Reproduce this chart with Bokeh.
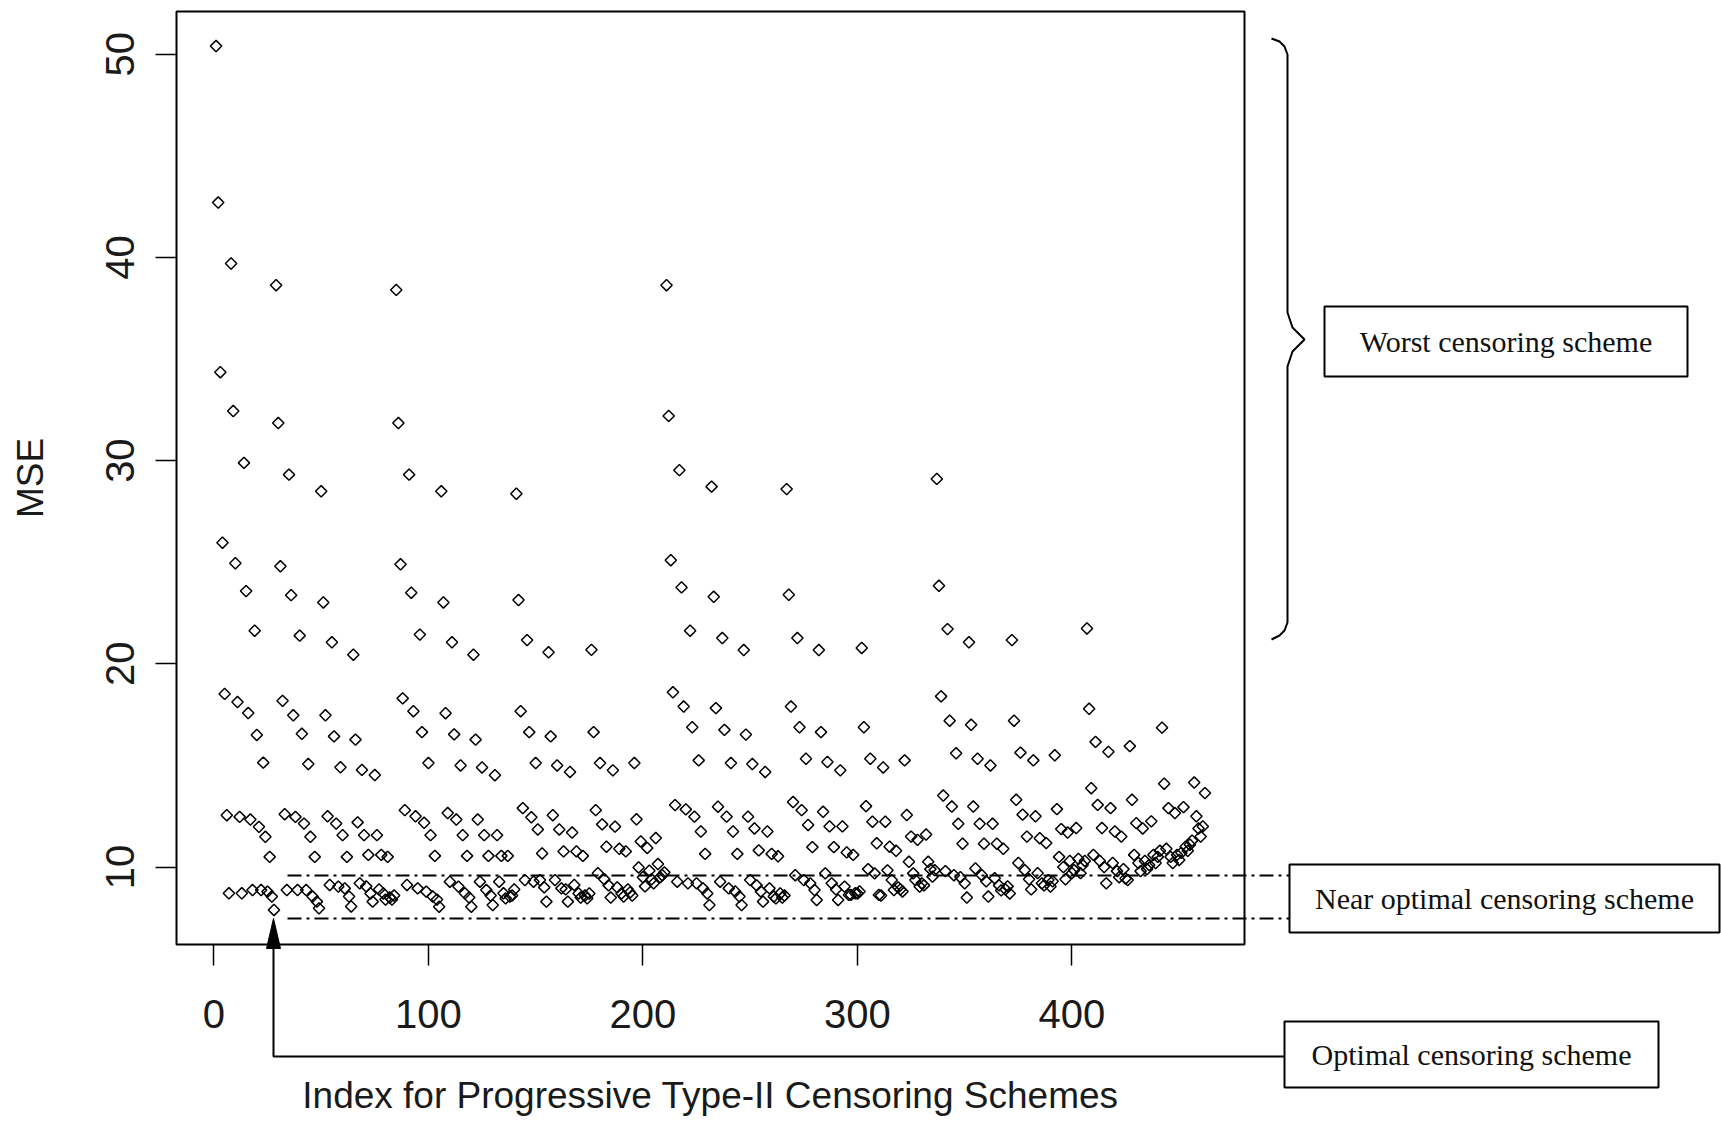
import math
from bokeh.plotting import figure
from bokeh.models import Range1d, FixedTicker, ColumnDataSource
from bokeh.embed import file_html
from bokeh.resources import INLINE
from bokeh.core.properties import value

# MSE of each progressive Type-II censoring scheme, grouped by the first removal R1
mse_r1_0 = [
    50.4, 42.7, 34.35, 25.96, 18.52, 12.55, 8.71,
    39.7, 32.44, 24.95, 18.12, 12.47, 8.71,
    29.89, 23.58, 17.58, 12.34, 8.87,
    21.63, 16.5, 11.98, 8.87,
    15.14, 11.49, 8.79,
    10.5, 8.55,
    7.89,
    38.63, 31.85, 24.8, 18.18, 12.6, 8.87,
    29.31, 23.38, 17.47, 12.47, 8.87,
    21.39, 16.56, 12.14, 8.87,
    15.07, 11.49, 8.55,
    10.5, 8.3,
    7.97,
    28.49, 23.02, 17.47, 12.5, 9.12,
    21.06, 16.43, 12.14, 9.04,
    14.91, 11.57, 8.95,
    10.5, 8.55,
    8.06,
    20.45, 16.27, 12.2, 9.2,
    14.78, 11.57, 9.05,
    10.6, 8.7,
    8.3,
    14.53, 11.57, 8.9,
    10.6, 8.7,
    8.4,
    10.5, 8.5,
    8.4,
    8.6,
    38.4, 31.85, 24.9, 18.3, 12.8, 9.12,
    29.31, 23.5, 17.67, 12.5, 8.95,
    21.44, 16.64, 12.18, 8.79,
    15.12, 11.57, 8.55,
    10.55, 8.4,
    8.05,
    28.49, 23.02, 17.57, 12.66, 9.28,
    21.06, 16.53, 12.34, 9.04,
    15.0, 11.57, 8.71,
    10.55, 8.5,
    8.05,
    20.45, 16.27, 12.34, 9.28,
    14.9, 11.57, 8.87,
    10.55, 8.6,
    8.13,
    14.52, 11.57, 9.28,
    10.55, 8.71,
    8.46,
    10.55, 8.55,
    8.6,
    8.9,
    28.37, 23.14, 17.67, 12.9, 9.36,
    21.17, 16.64, 12.45, 9.28,
    15.12, 11.85, 9.36,
    10.67, 9.0,
    8.3,
    20.57, 16.43, 12.55, 9.36,
    15.0, 11.85, 8.95,
    10.77, 8.9,
    8.3,
    14.68, 11.7, 9.12,
    10.77, 8.7,
    8.5,
    10.55, 8.6,
    8.46,
    8.7,
    20.69, 16.64, 12.8, 9.7,
    15.12, 12.1, 9.4,
    11.0, 9.1,
    8.5,
    14.76, 11.99, 9.0,
    10.9, 8.7,
    8.55,
    10.77, 8.9,
    8.75,
    8.6,
    15.12, 12.35, 9.98,
    11.26, 9.5,
    9.05,
    10.94, 9.82,
    9.4,
    9.2,
    11.43, 10.15,
    9.5,
    9.6,
    9.74,
]

mse_r1_1 = [
    38.63, 32.2, 25.1, 18.6, 13.05, 9.28,
    29.53, 23.76, 17.9, 12.84, 9.2,
    21.63, 16.88, 12.48, 9.2,
    15.25, 11.75, 8.95,
    10.65, 8.7,
    8.13,
    28.72, 23.3, 17.82, 12.97, 9.28,
    21.27, 16.75, 12.48, 8.95,
    15.12, 11.75, 8.8,
    10.65, 8.55,
    8.13,
    20.68, 16.52, 12.48, 9.36,
    15.07, 11.9, 9.1,
    10.82, 8.8,
    8.3,
    14.68, 11.75, 8.95,
    10.65, 8.55,
    8.46,
    10.53, 8.7,
    8.5,
    8.6,
    28.6, 23.4, 17.9, 13.2, 9.6,
    21.27, 16.88, 12.8, 9.36,
    15.33, 12.07, 9.2,
    10.98, 8.87,
    8.38,
    20.68, 16.64, 12.72, 9.69,
    15.17, 12.0, 9.2,
    10.98, 8.9,
    8.38,
    14.76, 12.0, 9.04,
    10.72, 8.63,
    8.63,
    10.6, 8.71,
    8.7,
    8.8,
    20.78, 16.88, 13.0, 9.9,
    15.33, 12.23, 9.69,
    11.17, 8.63,
    8.6,
    14.9, 12.23, 9.84,
    11.0, 9.36,
    8.87,
    10.8, 9.0,
    8.9,
    8.8,
    15.25, 12.56, 10.26,
    11.5, 9.69,
    9.36,
    11.34, 9.04,
    9.2,
    9.1,
    11.6, 10.26,
    9.9,
    9.53,
    9.85,
]

mse_r1_2 = [
    29.1, 23.84, 18.4, 13.52, 9.8,
    21.71, 17.2, 12.98, 9.6,
    15.6, 12.13, 9.5,
    11.15, 9.2,
    8.5,
    21.06, 17.0, 12.98, 9.93,
    15.33, 12.13, 9.6,
    11.15, 9.3,
    8.55,
    15.0, 12.13, 9.45,
    11.15, 9.1,
    8.85,
    10.9, 8.9,
    9.05,
    8.7,
    21.17, 17.2, 13.31, 10.2,
    15.63, 12.58, 9.85,
    11.5, 9.4,
    8.9,
    15.25, 12.5, 9.7,
    11.42, 9.2,
    9.1,
    11.18, 9.36,
    9.04,
    9.3,
    15.5, 12.85, 10.5,
    11.87, 10.0,
    9.4,
    11.7, 10.3,
    9.7,
    9.85,
    11.92, 10.4,
    9.7,
    10.1,
    10.3,
]

mse_r1_3 = [
    21.74, 17.79, 13.88, 10.6,
    16.16, 13.06, 10.3,
    11.92, 10.0,
    9.2,
    15.67, 12.9, 10.2,
    11.75, 9.8,
    9.5,
    11.5, 9.9,
    9.44,
    9.36,
    15.95, 13.31, 10.6,
    12.16, 10.2,
    9.8,
    11.9, 10.3,
    9.9,
    10.1,
    12.25, 10.6,
    10.2,
    10.5,
    10.8,
]

mse_r1_4 = [
    16.86, 14.1, 10.9,
    12.9, 10.5,
    10.2,
    12.66, 10.6,
    10.35,
    10.7,
    12.95, 11.0,
    10.8,
    11.1,
    11.3,
]

mse_r1_5 = [14.16, 12.5, 11.9, 11.5, 12.0]
mse_r1_6 = [13.64]

x_ticks = [0, 100, 200, 300, 400]
y_ticks = [10, 20, 30, 40, 50]

x_label = "Index for Progressive Type-II Censoring Schemes"
y_label = "MSE"
worst_text = "Worst censoring scheme"
near_text = "Near optimal censoring scheme"
optimal_text = "Optimal censoring scheme"

mse = mse_r1_0 + mse_r1_1 + mse_r1_2 + mse_r1_3 + mse_r1_4 + mse_r1_5 + mse_r1_6
n = len(mse)
index = list(range(1, n + 1))

# R-style 4% range extension
xlo, xhi = 1 - 0.04 * (n - 1), n + 0.04 * (n - 1)
ymin, ymax = min(mse), max(mse)
yr = ymax - ymin
ylo, yhi = ymin - 0.04 * yr, ymax + 0.04 * yr

W, H = 1721, 1123
FL, FR, FT, FB = 176, 1244, 11, 944

p = figure(width=W, height=H, x_range=Range1d(xlo, xhi), y_range=Range1d(ylo, yhi),
           output_backend="svg", toolbar_location=None,
           min_border_left=FL, min_border_right=W - FR,
           min_border_top=FT, min_border_bottom=H - FB)
p.title.visible = False
p.xgrid.visible = False
p.ygrid.visible = False
p.outline_line_color = "black"
p.outline_line_width = 2
p.background_fill_color = "white"
p.border_fill_color = "white"

SANS = "'Liberation Sans', Arial, sans-serif"
for ax in (p.xaxis[0], p.yaxis[0]):
    ax.axis_line_color = None
    ax.major_tick_out = 21
    ax.major_tick_in = 0
    ax.major_tick_line_color = "black"
    ax.major_tick_line_width = 1.5
    ax.minor_tick_line_color = None
    ax.major_label_text_font = SANS
    ax.major_label_text_font_size = "40px"
    ax.major_label_text_color = "#1a1a1a"
    ax.axis_label_text_font = SANS
    ax.axis_label_text_font_size = "37px"
    ax.axis_label_text_font_style = "normal"
    ax.axis_label_text_color = "#1a1a1a"

p.xaxis.ticker = FixedTicker(ticks=x_ticks)
p.yaxis.ticker = FixedTicker(ticks=y_ticks)
p.xaxis.axis_label = x_label
p.yaxis.axis_label = y_label
p.yaxis.major_label_orientation = "vertical"
p.xaxis.major_label_standoff = 34
p.xaxis.axis_label_standoff = 44
p.yaxis.major_label_standoff = 21
p.yaxis.axis_label_standoff = 53

src = ColumnDataSource(data=dict(idx=index, mse=mse))
p.scatter(x="idx", y="mse", source=src, marker="square", angle=math.pi / 4,
          size=8, fill_color=None, line_color="black", line_width=1.5)


def sx(px):
    return xlo + (px - FL) / (FR - FL) * (xhi - xlo)


def sy(py):
    return yhi - (py - FT) / (FB - FT) * (yhi - ylo)


OV = "overlay"
# near-optimal band (dot-dash lines)
for py in (875, 918):
    p.line(x=[sx(287), sx(1289)], y=[sy(py), sy(py)], line_color="black",
           line_width=2, line_dash="14 5 3 5", level=OV)

# arrow to the optimal scheme
p.line(x=[sx(273), sx(273), sx(1284)], y=[sy(935), sy(1056), sy(1056)],
       line_color="black", line_width=2, level=OV)
p.patch(x=[sx(273), sx(266), sx(280)], y=[sy(918), sy(948), sy(948)],
        fill_color="black", line_color="black", line_width=1, level=OV)

# brace for the worst schemes
bx = [1271, 1279, 1284, 1287, 1287, 1292, 1304, 1292, 1287, 1287, 1284, 1279, 1271]
by = [38, 41, 46, 54, 312, 327, 339, 351, 366, 622, 630, 635, 639]
p.line(x=[sx(v) for v in bx], y=[sy(v) for v in by], line_color="black",
       line_width=2, level=OV)

# labelled boxes
boxes = [(1324, 1687, 306, 376), (1289, 1719, 864, 932), (1284, 1658, 1021, 1087)]
p.quad(left=[sx(b[0]) for b in boxes], right=[sx(b[1]) for b in boxes],
       top=[sy(b[2]) for b in boxes], bottom=[sy(b[3]) for b in boxes],
       fill_color="white", line_color="black", line_width=2, level=OV)
p.text(x=[sx((b[0] + b[1]) / 2) for b in boxes],
       y=[sy((b[2] + b[3]) / 2) for b in boxes],
       text=[worst_text, near_text, optimal_text],
       text_font=value("Liberation Serif"), text_font_size="30px",
       text_align="center", text_baseline="middle", text_color="#111111",
       level=OV)

open("out.html", "w").write(file_html(p, INLINE))
